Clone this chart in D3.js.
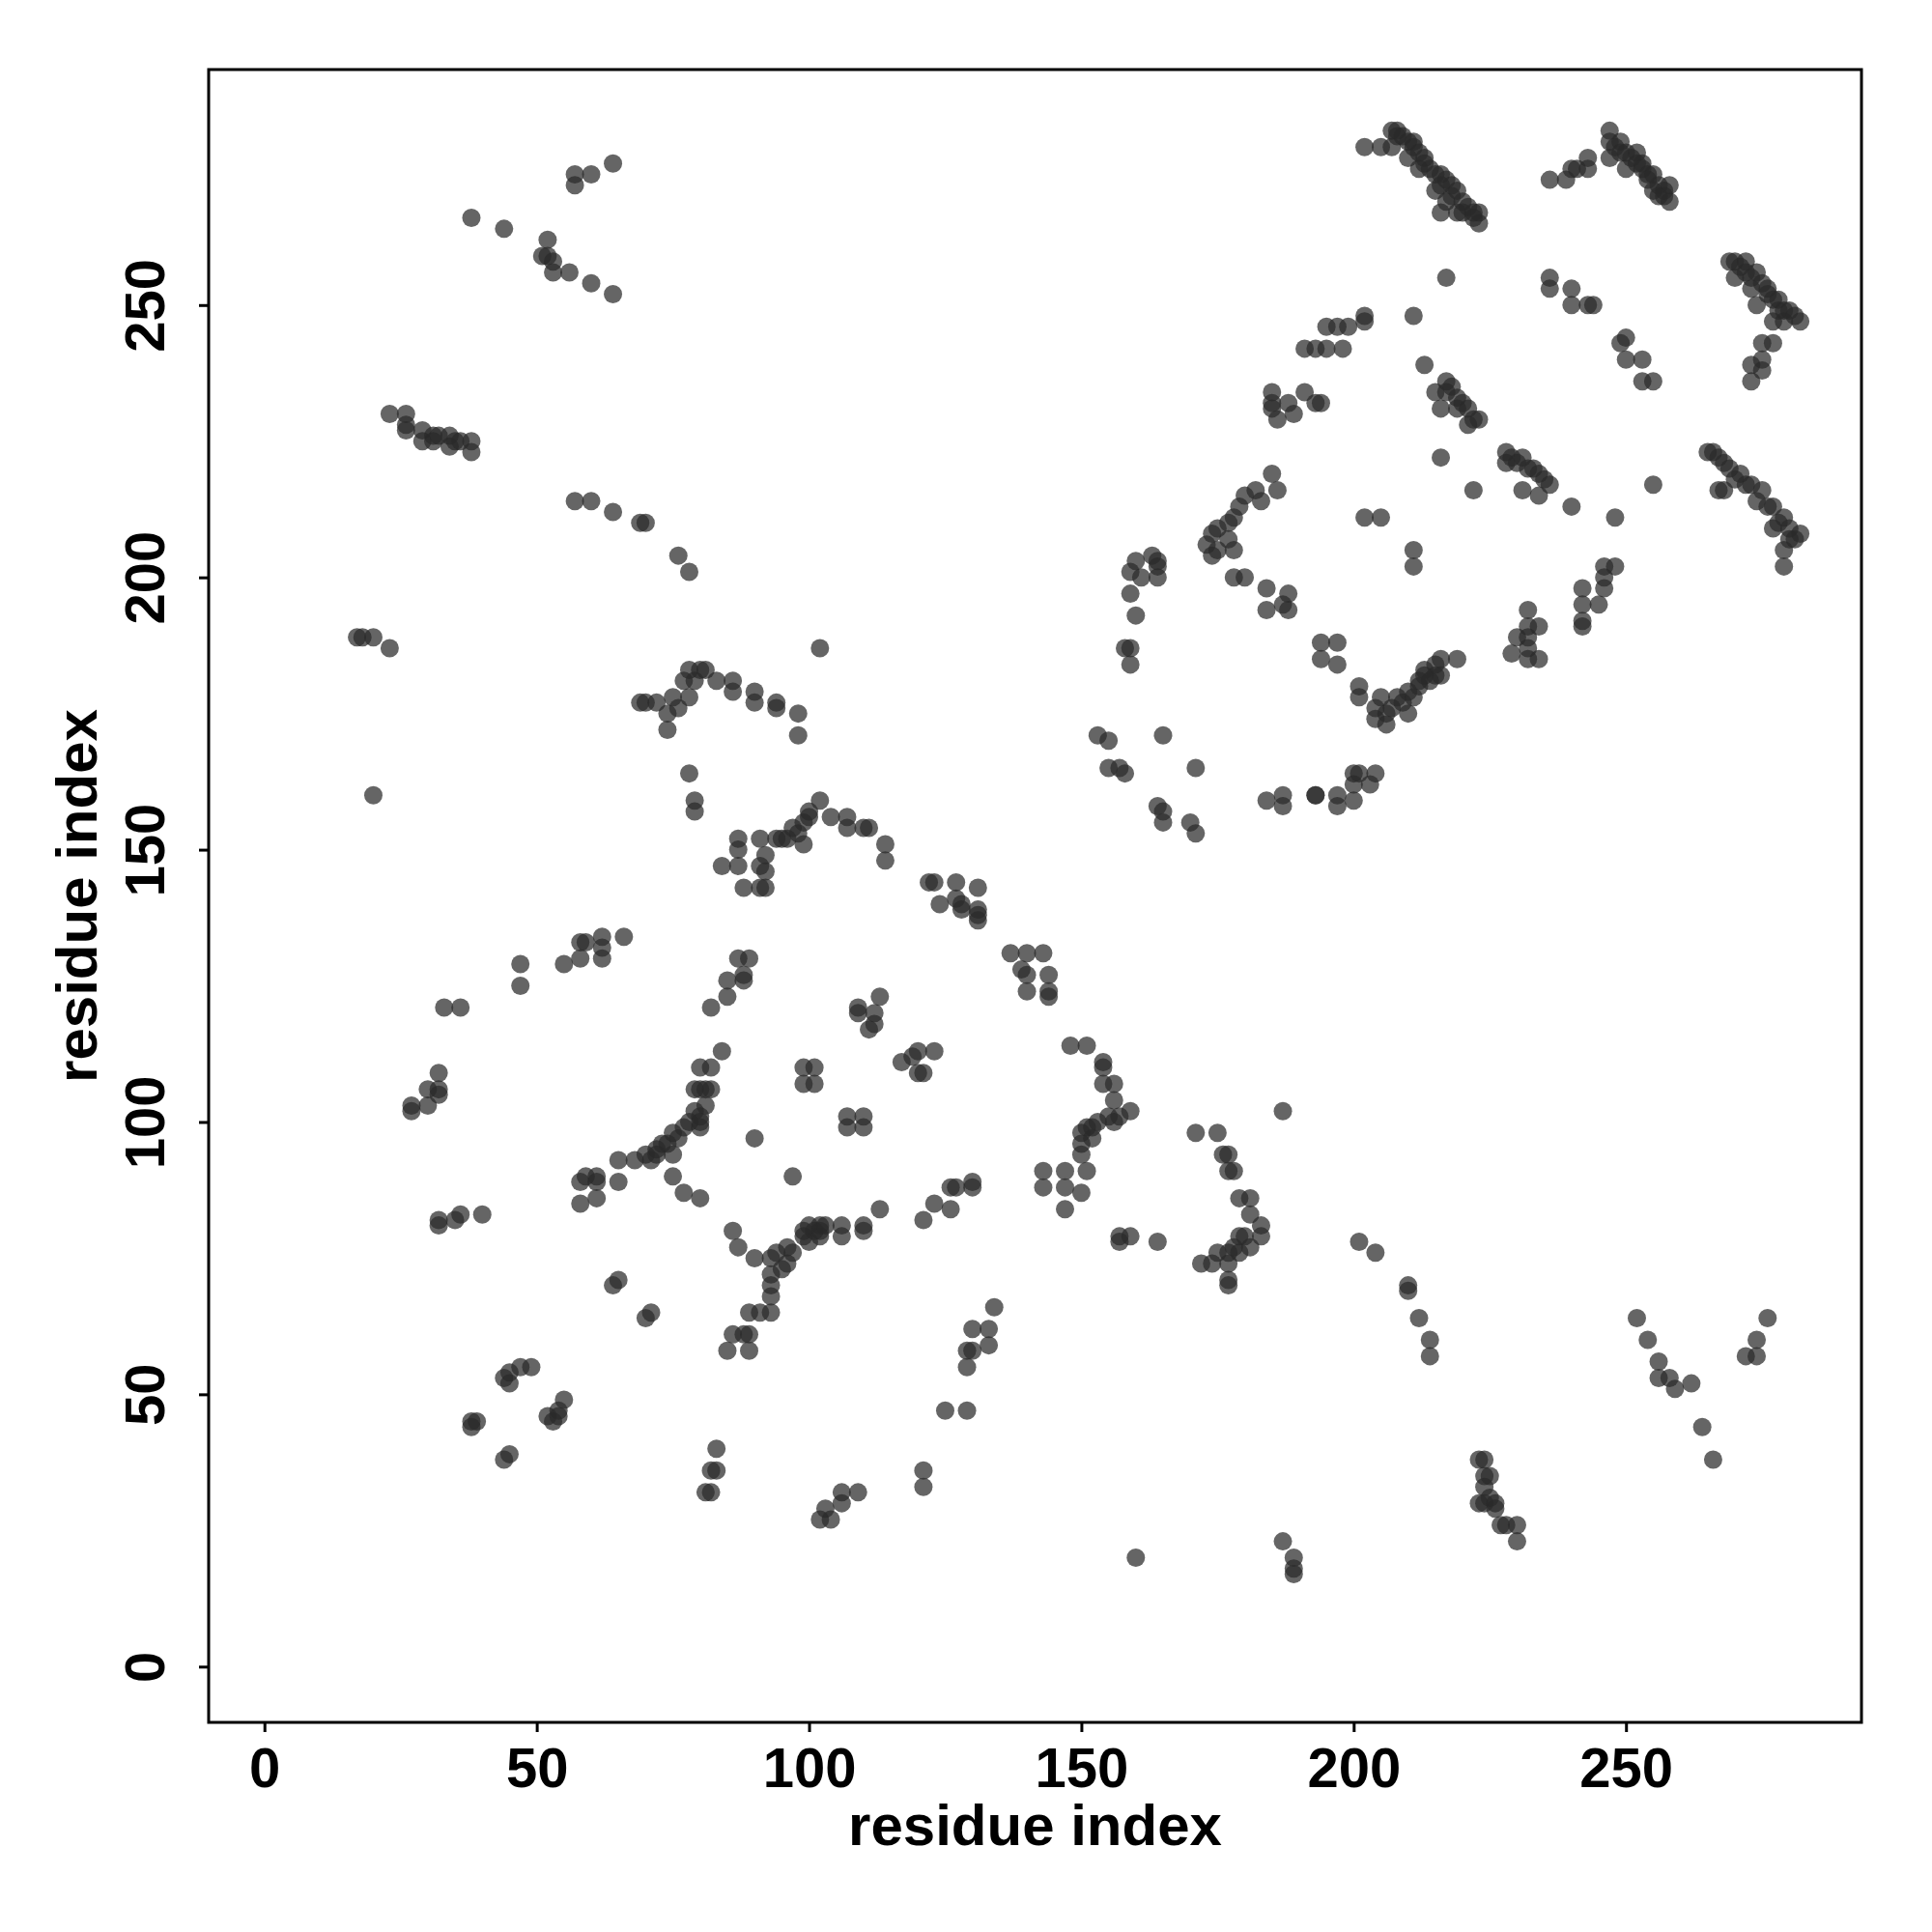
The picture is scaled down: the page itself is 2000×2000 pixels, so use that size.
<!DOCTYPE html>
<html>
<head>
<meta charset="utf-8">
<script src="https://cdn.jsdelivr.net/npm/d3@7"></script>
<style>
  html, body { margin: 0; padding: 0; background: #fff; }
  svg { display: block; }
</style>
</head>
<body>
<div id="chart"></div>
<script>
// ---- data: residue contact pairs [residue i, residue j] ----
const contactsTopLeft = [
  [64,276],[60,274],[57,274],[57,272],[38,266],[44,264],[52,262],[51,259],[52,259],[53,258],[53,256],[56,256],[60,254],[64,252],
  [23,230],[26,230],[26,228],[26,227],[29,227],[31,226],[29,225],[31,225],[34,226],[35,225],[34,224],[38,225],[38,223],[32,226],[36,225],
  [57,214],[60,214],[64,212],[69,210],[70,210],[76,204],[78,201]
];
const contactsLeftMiddle = [
  [17,189],[18,189],[20,189],[23,187],[20,160],
  [69,177],[70,177],[72,177],[74,175],[74,172],[76,176],[75,178],[77,181],[78,183],[79,181],[80,183],[81,183],[78,178],
  [83,181],[86,181],[86,179],[90,179],[90,177],[94,177],[94,176],[98,175],[98,171],[102,187],
  [78,164],[79,159],[79,157],
  [87,152],[91,152],[94,152],[96,152],[98,153],[99,155],[99,151],[100,157],[102,159],[104,156],[100,156],[97,154],[95,152],
  [92,149],[84,147],[87,147],[91,147],[92,146],[88,143],[91,143],[87,150],[92,143],
  [107,156],[107,154],[110,154],[111,154],[114,151],[114,148],
  [58,133],[59,133],[62,134],[62,132],[66,134],[58,130],[55,129],[62,130],[47,129],[47,125],[33,121],[36,121],
  [32,109],[30,106],[32,106],[32,105],[30,103],[27,102],[27,103],
  [89,130],[87,130],[88,127],[85,126],[88,126],[85,123],[82,121],[84,113],[80,110],[82,110],[79,106],[81,106],[82,106],[80,106],
  [81,103],[79,102],[80,101],[80,100],[80,99],[78,100],[77,99],[75,98],[76,97],[74,96],[73,96],[72,95],[72,94],[75,94],[70,94],
  [71,93],[68,93],[65,93],[61,90],[59,90],[75,90],[90,97]
];
const contactsCentre = [
  [123,144],[122,144],[127,144],[131,143],[124,140],[127,141],[128,140],[128,139],[131,139],[131,138],[131,137],
  [137,131],[140,131],[143,131],[139,128],[140,127],[144,127],[140,124],[144,124],[144,123],
  [113,123],[109,121],[109,120],[112,120],[112,118],[111,117],
  [120,113],[123,113],[117,111],[119,112],[120,109],[121,109],
  [99,110],[101,110],[99,107],[101,107],[107,101],[110,101],[107,99],[110,99],[97,90],
  [148,114],[151,114],[154,111],[154,110],[156,107],[154,107],[156,104],[159,102],[157,101],[155,101],[156,100],[153,100],
  [151,99],[152,99],[150,98],[152,97],[150,96],[150,94],[151,91],[147,91],[143,91],
  [187,102],[171,98],[175,98],[176,94],[177,94],[177,91],[178,91],
  [159,187],[158,187],[159,184],[153,171],[155,170],[165,171],[155,165],[157,165],[158,164],[171,165],
  [164,158],[165,157],[165,155],[170,155],[171,153],[184,159],[187,160],[187,158],[193,160]
];
const contactsLowerLeft = [
  [58,89],[58,85],[61,89],[61,86],[65,89],[77,87],[80,86],[86,80],[87,77],[90,75],[89,65],[89,61],[86,61],[88,61],[85,58],[89,58],
  [91,65],[93,65],[93,68],[93,70],[93,72],[95,73],[96,74],[97,76],[93,75],[94,76],[96,77],[99,79],[100,81],[102,81],[102,80],
  [100,78],[99,80],[101,80],[102,79],[103,81],[106,81],[106,79],[110,81],[110,80],[113,84],
  [32,82],[32,81],[35,82],[36,83],[40,83],[64,70],[65,71],[70,64],[71,65],
  [44,53],[45,52],[47,55],[49,55],[45,54],[55,49],[54,47],[52,46],[53,45],[54,46],[38,45],[39,45],[38,44],[45,39],[44,38],
  [83,40],[83,36],[82,36],[82,32],[81,32]
];
const contactsLowerMiddle = [
  [130,89],[130,88],[127,88],[126,88],[126,84],[123,85],[121,82],
  [134,66],[130,62],[133,62],[129,58],[130,58],[133,59],[129,55],[125,47],[129,47],[121,36],[121,33],
  [102,27],[104,27],[103,29],[106,32],[106,30],[109,32],
  [143,88],[147,88],[147,84],[150,87],
  [157,79],[159,79],[157,78],[164,78],
  [179,86],[181,86],[181,83],[183,81],[183,79],[179,79],[178,77],[177,76],[175,76],[172,74],[174,74],[177,74],[177,71],[177,70],
  [179,76],[180,79],[181,77],
  [160,20],[187,23],[189,20],[189,18],[189,17]
];
const contactsLowerRight = [
  [201,78],[204,76],[210,70],[210,69],[212,64],[214,60],[214,57],
  [223,38],[224,38],[224,35],[225,35],[224,33],[224,30],[225,31],[226,30],[226,29],[227,26],[228,26],[230,26],[230,23],[223,30],
  [252,64],[254,60],[256,56],[256,53],[258,53],[259,51],[262,52],[264,44],[266,38],[272,57],[274,57],[274,60],[276,64]
];
const contactsUpperRight = [
  [191,242],[185,234],[185,232],[185,231],[186,229],[188,232],[189,230],[191,234],[193,232],
  [185,219],[186,216],[183,214],[182,216],[180,215],[179,213],[178,211],[177,210],[175,209],[174,208],[173,206],[174,204],
  [175,205],[178,205],[177,207],[178,200],[180,200],
  [164,203],[163,204],[159,201],[159,197],[160,193],[164,202],[164,200],[161,200],[160,203],
  [184,198],[184,194],[188,197],[188,194],[187,195],
  [202,279],[205,279],[207,282],[208,282],[208,281],[207,279],[210,280],[211,279],[210,277],[213,277],[214,275],[212,275],
  [215,274],[217,273],[215,271],[219,271],[217,269],[221,268],[219,267],[223,267],[223,265],[216,267],[209,281],[211,280],
  [212,278],[213,276],[216,274],[216,272],[218,272],[218,270],[220,269],[220,267],[222,267],[222,266],
  [247,282],[247,280],[247,277],[249,280],[250,278],[252,278],[252,276],[253,276],[254,274],[255,274],[255,271],[258,272],
  [258,269],[257,271],[250,275],[248,279],[249,278],[251,277],[253,275],[254,273],[256,272],[256,270],[257,270],
  [236,273],[239,273],[240,275],[241,275],[243,277],[243,275],
  [269,258],[270,258],[272,258],[270,255],[272,256],[274,256],[273,253],[276,253],[274,250],[278,251],[280,249],[282,247],
  [277,247],[279,247],[271,257],[273,255],[275,254],[276,252],[277,251],[278,249],[279,249],[281,248],
  [275,243],[277,243],[273,239],[275,240],[275,238],[273,236],
  [236,255],[236,253],[240,253],[240,250],[243,250],[244,250],
  [250,244],[249,243],[250,240],[253,240],[253,236],[255,236],
  [202,248],[202,247],[199,246],[197,246],[195,246],[195,242],[198,242],[193,242],[211,248],[217,255],[213,239],[194,232],
  [217,236],[215,234],[218,235],[219,233],[221,231],[216,231],[222,229],[221,228],[223,229],[217,234],[219,231],[220,232],
  [216,222],[222,216],
  [228,223],[228,221],[231,222],[233,220],[235,218],[236,217],[231,216],[234,215],[229,222],[230,221],[232,220],[234,219],
  [240,213],[248,211],[255,217],
  [265,223],[266,223],[268,221],[267,216],[268,216],[271,219],[272,217],[275,216],[277,213],[279,211],[282,208],[279,205],
  [279,202],[277,209],[267,222],[269,220],[270,218],[273,217],[274,214],[276,213],[278,210],[280,209],[281,207],[280,207],
  [246,202],[248,202],[246,200],[242,198],[246,198],[242,195],[245,195],[232,194],[242,192],
  [202,211],[205,211],[211,205],[211,202],
  [194,188],[197,188],[194,185],[197,184],[201,180],[201,178],[205,178],[204,176],[206,175],[204,174],[206,173],[209,177],
  [210,175],[211,178],[212,180],[214,181],[213,183],[215,182],[216,185],[216,182],[219,185],[207,176],[208,178],[210,179],
  [212,181],[213,182],[215,184],
  [230,189],[229,186],[232,189],[232,191],[234,191],[232,187],[232,185],[234,185],[242,191],
  [193,160],[197,160],[197,158],[200,159],[200,164],[201,164],[204,164],[203,162],[200,162]
];
const xTicks = [0, 50, 100, 150, 200, 250];
const yTicks = [0, 50, 100, 150, 200, 250];
const xLabel = "residue index";
const yLabel = "residue index";

const contacts = [].concat(contactsTopLeft, contactsLeftMiddle, contactsCentre,
  contactsLowerLeft, contactsLowerMiddle, contactsLowerRight, contactsUpperRight);

// ---- layout ----
const W = 2000, H = 2000;
const plotL = 216, plotR = 1927, plotT = 72, plotB = 1783;
const domain = [-10.24, 293.24];
const x = d3.scaleLinear().domain(domain).range([plotL, plotR]);
const y = d3.scaleLinear().domain(domain).range([plotB, plotT]);
const font = "'Liberation Sans', Arial, Helvetica, sans-serif";

const svg = d3.select("#chart").append("svg")
  .attr("width", W).attr("height", H)
  .attr("viewBox", `0 0 ${W} ${H}`);
svg.append("rect").attr("width", W).attr("height", H).attr("fill", "#fff");

// points
svg.append("g")
  .selectAll("circle")
  .data(contacts)
  .join("circle")
  .attr("cx", d => x(d[0]))
  .attr("cy", d => y(d[1]))
  .attr("r", 9.5)
  .attr("fill", "#2a2a2a")
  .attr("fill-opacity", 0.72);

// box
svg.append("rect")
  .attr("x", plotL).attr("y", plotT)
  .attr("width", plotR - plotL).attr("height", plotB - plotT)
  .attr("fill", "none").attr("stroke", "#000").attr("stroke-width", 3);

// x axis
const gx = svg.append("g")
  .attr("transform", `translate(0,${plotB})`)
  .call(d3.axisBottom(x).tickValues(xTicks).tickSize(10).tickPadding(16).tickFormat(d3.format("d")));
gx.select(".domain").remove();
gx.selectAll(".tick line").attr("stroke", "#000").attr("stroke-width", 3);
gx.selectAll(".tick text")
  .attr("font-family", font).attr("font-size", 58).attr("font-weight", "bold").attr("fill", "#000");

// y axis
const gy = svg.append("g")
  .attr("transform", `translate(${plotL},0)`)
  .call(d3.axisLeft(y).tickValues(yTicks).tickSize(10).tickFormat(d3.format("d")));
gy.select(".domain").remove();
gy.selectAll(".tick line").attr("stroke", "#000").attr("stroke-width", 3);
gy.selectAll(".tick text")
  .attr("font-family", font).attr("font-size", 58).attr("font-weight", "bold").attr("fill", "#000")
  .attr("x", null).attr("dy", null)
  .attr("text-anchor", "middle")
  .attr("transform", "translate(-46,0) rotate(-90)");

// axis titles
svg.append("text")
  .attr("x", (plotL + plotR) / 2).attr("y", 1910)
  .attr("text-anchor", "middle")
  .attr("font-family", font).attr("font-size", 60).attr("font-weight", "bold")
  .text(xLabel);

svg.append("text")
  .attr("transform", `translate(100,${(plotT + plotB) / 2}) rotate(-90)`)
  .attr("text-anchor", "middle")
  .attr("font-family", font).attr("font-size", 60).attr("font-weight", "bold")
  .text(yLabel);
</script>
</body>
</html>
